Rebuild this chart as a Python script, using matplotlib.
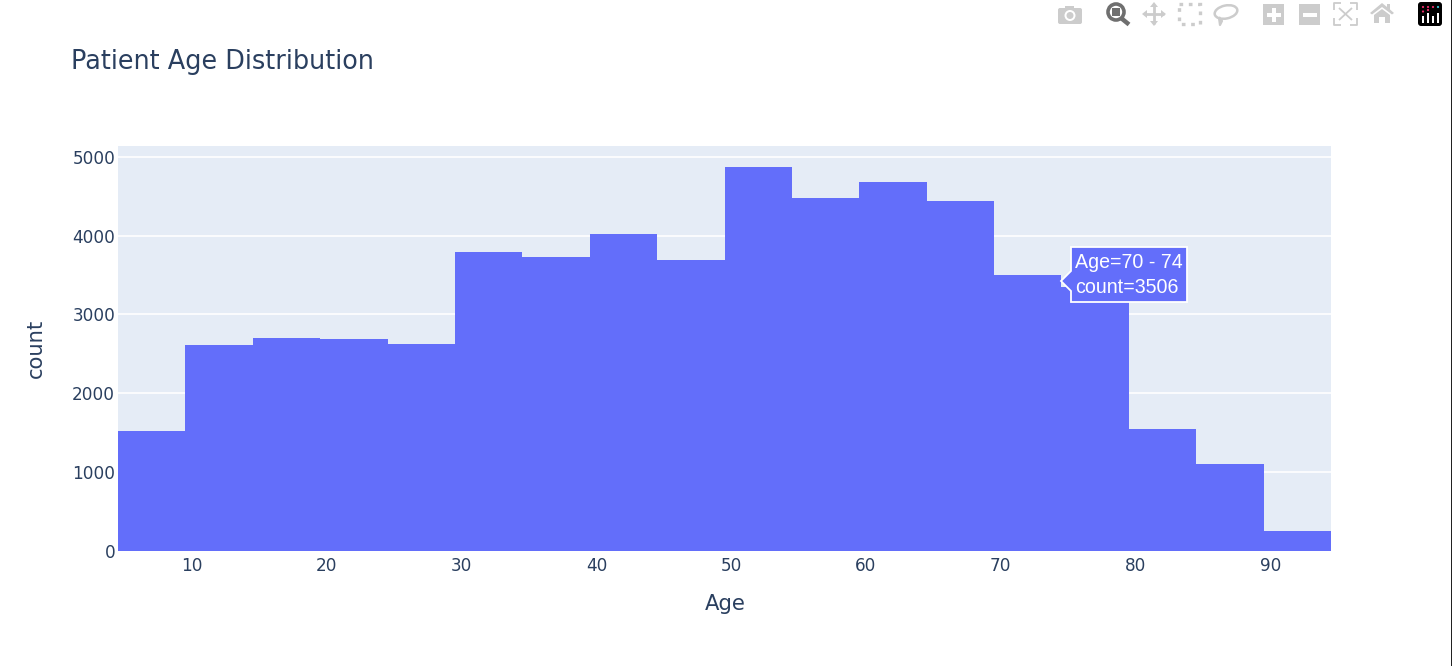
import matplotlib
matplotlib.use("Agg")
import matplotlib.pyplot as plt
from matplotlib.patches import Rectangle, Polygon, Circle, FancyBboxPatch, Ellipse
from matplotlib.lines import Line2D

W, H = 1452, 666
bin_edges = [4.5, 9.5, 14.5, 19.5, 24.5, 29.5, 34.5, 39.5, 44.5, 49.5, 54.5, 59.5,
             64.5, 69.5, 74.5, 79.5, 84.5, 89.5]
counts = [1520, 2610, 2700, 2685, 2620, 3790, 3725, 4020, 3690, 4870, 4480, 4680,
          4440, 3506, 3350, 1545, 1100, 250]
bin_width = 5
x_ticks = [10, 20, 30, 40, 50, 60, 70, 80, 90]
y_ticks = [0, 1000, 2000, 3000, 4000, 5000]
title = "Patient Age Distribution"
x_label = "Age"
y_label = "count"
tooltip_age = "Age=70 - 74"
tooltip_count = "count=3506"

BAR = "#636efa"
BG = "#e5ecf6"
INK = "#2a3f5f"
ICON = "#cccccc"
ICON_ON = "#6f6f6f"
FONT = ["DejaVu Sans"]

fig = plt.figure(figsize=(W / 100, H / 100), dpi=100, facecolor="white")
L, R, T, B = 118, 1331, 146, 550.5
ax = fig.add_axes([L / W, 1 - B / H, (R - L) / W, (B - T) / H], facecolor=BG)
ax.bar(bin_edges, counts, width=bin_width, align="edge", color=BAR, linewidth=0, zorder=3)
ax.set_xlim(4.5, 94.5)
ax.set_ylim(0, 5140)
ax.set_yticks(y_ticks)
ax.set_xticks(x_ticks)
ax.grid(axis="y", color="white", linewidth=1.2, zorder=1)
ax.set_axisbelow(True)
for s in ax.spines.values():
    s.set_visible(False)
ax.tick_params(axis="x", length=0, labelsize=12.2, labelcolor=INK, pad=5)
ax.tick_params(axis="y", length=0, labelsize=12.2, labelcolor=INK, pad=2)
for t in ax.get_xticklabels() + ax.get_yticklabels():
    t.set_fontfamily(FONT)
for t in ax.get_yticklabels():
    t.set_verticalalignment("center_baseline")

# Overlay in pixel coordinates for title, labels, hover box and mode bar
ov = fig.add_axes([0, 0, 1, 1], facecolor="none")
ov.set_xlim(0, W)
ov.set_ylim(H, 0)
ov.axis("off")

ov.text(71, 62, title, fontsize=18.4, color=INK, family=FONT, va="center", ha="left")
ov.text(725, 604, x_label, fontsize=15.2, color=INK, family=FONT, va="center", ha="center")
ov.text(36, 348, y_label, fontsize=15.2, color=INK, family=FONT, va="center", ha="center", rotation=90)

# hover label
ov.add_patch(Polygon([(1061, 281), (1071, 271), (1071, 247), (1187, 247), (1187, 302),
                      (1071, 302), (1071, 291)], closed=True, facecolor=BAR,
                     edgecolor="white", linewidth=1.3, zorder=6))
ov.text(1075, 262.5, tooltip_age, fontsize=14.1, color="white", family=["Liberation Sans"],
        va="center", ha="left", zorder=7)
ov.text(1075, 287.5, tooltip_count, fontsize=14.1, color="white", family=["Liberation Sans"],
        va="center", ha="left", zorder=7)

# mode bar icons
def rect(x, y, w, h, c=ICON, **k):
    ov.add_patch(Rectangle((x, y), w, h, facecolor=c, edgecolor="none", **k))

def line(xs, ys, c=ICON, lw=1.6, ls="-"):
    ov.add_line(Line2D(xs, ys, color=c, lw=lw, ls=ls, solid_capstyle="butt"))

# camera
ov.add_patch(FancyBboxPatch((1058, 8), 24, 16, boxstyle="round,pad=0,rounding_size=2", fc=ICON, ec="none"))
rect(1065, 5.5, 9, 3)
ov.add_patch(Circle((1070, 15.5), 5.5, fc="white", ec="none"))
ov.add_patch(Circle((1070, 15.5), 3.5, fc=ICON, ec="none"))
# zoom (active)
ov.add_patch(Circle((1116, 12), 8, fc="none", ec=ICON_ON, lw=2.6))
rect(1112, 8, 8, 8, ICON_ON)
line([1121, 1129], [18, 24.5], ICON_ON, 3.2)
# pan
line([1154, 1154], [5, 24], lw=2)
line([1145, 1164], [14, 14], lw=2)
for p in ([(1154, 2), (1150, 7), (1158, 7)], [(1154, 26), (1150, 21), (1158, 21)],
          [(1142, 14), (1147, 10), (1147, 18)], [(1166, 14), (1161, 10), (1161, 18)]):
    ov.add_patch(Polygon(p, fc=ICON, ec="none"))
# box select
ov.add_patch(Rectangle((1179, 4), 21, 20, fc="none", ec=ICON, lw=2.4, ls=(0, (1.1, 1.7))))
# lasso
ov.add_patch(Ellipse((1226, 12), 23, 13, angle=-12, fc="none", ec=ICON, lw=1.8))
line([1219, 1222, 1220, 1219], [17, 21, 25, 18], lw=1.6)
# zoom in / out
rect(1263, 4, 21, 21)
rect(1271.5, 7.5, 4, 14, "white")
rect(1266.5, 12.5, 14, 4, "white")
rect(1299, 4, 21, 21)
rect(1302.5, 12.5, 14, 4, "white")
# autoscale
for xs, ys in (([1334, 1334, 1341], [10, 3, 3]), ([1350, 1357, 1357], [3, 3, 10]),
               ([1334, 1334, 1341], [18, 25, 25]), ([1350, 1357, 1357], [25, 25, 18]),
               ([1339, 1352], [8, 20]), ([1352, 1339], [8, 20])):
    line(xs, ys, lw=1.3)
# home
ov.add_patch(Polygon([(1382, 3), (1387, 7), (1387, 4), (1390, 4), (1390, 9.5), (1394, 13), (1392, 14.5),
                      (1382, 7), (1372, 14.5), (1370, 13)], fc=ICON, ec="none"))
ov.add_patch(Polygon([(1382, 9), (1390, 15), (1390, 23), (1385, 23), (1385, 17), (1379, 17), (1379, 23),
                      (1374, 23), (1374, 15)], fc=ICON, ec="none"))
# plotly logo
ov.add_patch(FancyBboxPatch((1418, 2), 24, 24, boxstyle="round,pad=0,rounding_size=3", fc="black", ec="none"))
for i, (x, top) in enumerate(zip((1423, 1428, 1433, 1438), (16, 13, 16, 13))):
    rect(x - 0.9, top, 1.8, 23 - top, "white")
    ov.add_patch(Circle((x, 7), 1.1, fc=("#ef2d6d", "#ef2d6d", "#ef2d6d", "#37c6d8")[i], ec="none"))
    if i in (0, 1):
        ov.add_patch(Circle((x, 11.5 if i == 0 else 10), 1.1, fc="#ef2d6d", ec="none"))
rect(1451, 0, 1, H, "#222222")

fig.savefig("out.png", dpi=100, facecolor="white")
